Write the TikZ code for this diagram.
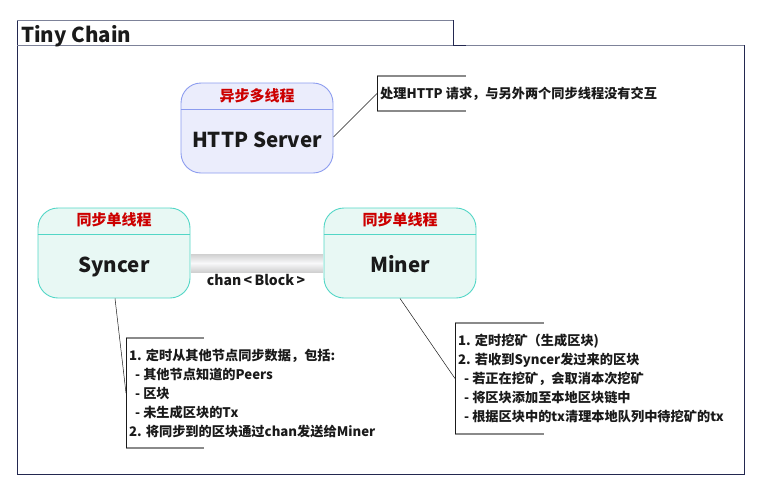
\documentclass[tikz,border=0pt]{standalone}
\usepackage{fontspec}
\setmainfont{Noto Sans CJK SC}
\usetikzlibrary{calc}
\definecolor{frame}{HTML}{232850}
\definecolor{frametop}{HTML}{7D8299}
\definecolor{hfill}{HTML}{EBEDFC}
\definecolor{hdraw}{HTML}{8C9CEF}
\definecolor{sfill}{HTML}{E8F8F4}
\definecolor{sdraw}{HTML}{52D6C6}
\definecolor{hred}{HTML}{CC0000}
\definecolor{ink}{HTML}{1A1A1A}
\definecolor{notegray}{HTML}{8A8A8A}
\definecolor{baredge}{HTML}{D0D0D0}
\definecolor{barmid}{HTML}{F8F8FA}
\begin{document}
\begin{tikzpicture}[x=1pt,y=-1pt,
  stbox/.style={draw=#1, line width=0.9pt, rounded corners=20pt, minimum width=152pt, minimum height=90pt, inner sep=0pt},
  hdr/.style={text=hred, font=\fontsize{15}{17}\selectfont\bfseries, inner sep=0pt},
  big/.style={text=ink, font=\fontsize{20.5}{24}\selectfont\bfseries, inner sep=0pt, anchor=base},
  notetxt/.style={text=ink, font=\fontsize{13.2}{19}\selectfont\bfseries, anchor=west, align=left, inner xsep=3pt, inner ysep=0pt},
  notel/.style={draw=ink, line width=0.8pt},
  notetb/.style={draw=notegray, line width=1.8pt},
  link/.style={draw=ink, line width=0.5pt},
  framel/.style={draw=frame, line width=1pt}]
\useasboundingbox (0,0) rectangle (763,493);

% outer frame
\draw[framel] (17,45) -- (17,474) -- (744,474) -- (744,45);
\draw[draw=frametop, line width=1pt] (17,45) -- (744,45);
\draw[framel] (17,45) -- (17,20);
\draw[draw=frametop, line width=1pt] (17,20) -- (453,20);
\draw[framel] (453,20) -- (453,45) -- (466,45);
\node[anchor=base west, inner sep=0pt, text=ink, font=\fontsize{20.5}{24}\selectfont\bfseries] (title) at (21,42) {Tiny Chain};

% boxes
\node[stbox=hdraw, fill=hfill] (http) at (257,128) {};
\draw[draw=hdraw, line width=0.9pt] (http.west |- 0,109) -- (http.east |- 0,109);
\node[hdr] (httph) at (257,95.5) {异步多线程};
\node[big] (httpt) at (257,147.5) {HTTP Server};

\node[stbox=sdraw, fill=sfill] (syncer) at (114,253) {};
\draw[draw=sdraw, line width=0.9pt] (syncer.west |- 0,234) -- (syncer.east |- 0,234);
\node[hdr] (syncerh) at (114,220) {同步单线程};
\node[big] (syncert) at (114,272) {Syncer};

\node[stbox=sdraw, fill=sfill] (miner) at (400,253) {};
\draw[draw=sdraw, line width=0.9pt] (miner.west |- 0,234) -- (miner.east |- 0,234);
\node[hdr] (minerh) at (400,220) {同步单线程};
\node[big] (minert) at (400,272) {Miner};

% channel bar
\shade[top color=baredge, bottom color=baredge, middle color=barmid]
  ($(syncer.east)+(0.5,1)$) rectangle ($(miner.west)+(-0.5,19)$);
\node[text=ink, font=\fontsize{14}{16}\selectfont\bfseries, inner sep=0pt] (chan) at (256,280) {chan\,<\,Block\,>};

% notes
\node[notetxt, minimum height=35pt] (n1) at (377,93.5) {处理HTTP 请求，与另外两个同步线程没有交互};
\draw[notetb] (n1.north west) -- ++(89,0);
\draw[notetb] (n1.south west) -- ++(89,0);
\draw[notel] (n1.north west) -- (n1.south west);
\draw[link] ($(http.east)+(0,9)$) -- (n1.west);

\node[notetxt, minimum height=110pt] (n2) at (126,393) {1. 定时从其他节点同步数据，包括:\\
\hspace{6pt}- 其他节点知道的Peers\\
\hspace{6pt}- 区块\\
\hspace{6pt}- 未生成区块的Tx\\
2. 将同步到的区块通过chan发送给Miner};
\draw[notetb] (n2.north west) -- ++(78,0);
\draw[notetb] (n2.south west) -- ++(78,0);
\draw[notel] (n2.north west) -- (n2.south west);
\draw[link] ($(syncer.south)+(1,0)$) -- (n2.west);

\node[notetxt, minimum height=111pt] (n3) at (455,378.5) {1. 定时挖矿（生成区块)\\
2. 若收到Syncer发过来的区块\\
\hspace{6pt}- 若正在挖矿，会取消本次挖矿\\
\hspace{6pt}- 将区块添加至本地区块链中\\
\hspace{6pt}- 根据区块中的tx清理本地队列中待挖矿的tx};
\draw[notetb] (n3.north west) -- ++(89,0);
\draw[notetb] (n3.south west) -- ++(89,0);
\draw[notel] (n3.north west) -- (n3.south west);
\draw[link] (miner.south) -- (n3.west);
\end{tikzpicture}
\end{document}
